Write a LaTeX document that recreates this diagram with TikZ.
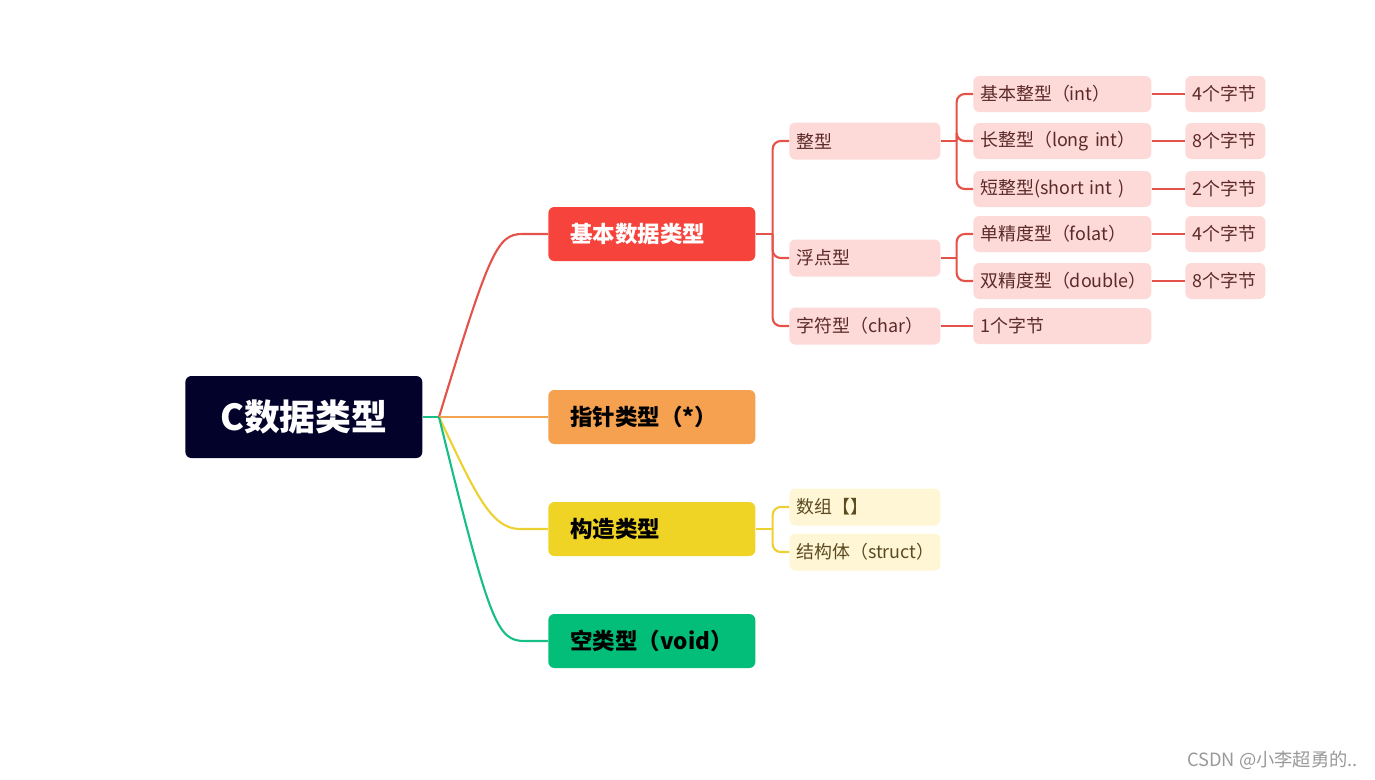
\documentclass[tikz,border=0pt]{standalone}
\usepackage{fontspec}
\setmainfont{Noto Sans CJK SC}
\usepackage{xcolor}
\definecolor{rootbg}{HTML}{03022A}
\definecolor{redbg}{HTML}{F6443D}
\definecolor{orangebg}{HTML}{F5A150}
\definecolor{yellowbg}{HTML}{F0D425}
\definecolor{greenbg}{HTML}{02BE78}
\definecolor{redln}{HTML}{E5524A}
\definecolor{orangeln}{HTML}{F2A451}
\definecolor{yellowln}{HTML}{EDD132}
\definecolor{greenln}{HTML}{17BF84}
\definecolor{pinkbg}{HTML}{FDD9D8}
\definecolor{pinktx}{HTML}{5B2A28}
\definecolor{creambg}{HTML}{FFF6D5}
\definecolor{creamtx}{HTML}{5A4A20}

\begin{document}
\begin{tikzpicture}[x=0.02cm,y=-0.02cm,
  box/.style={rounded corners=0.12cm, inner ysep=0pt, align=left, anchor=west},
  rootbox/.style={box, fill=rootbg, text=white, align=center, inner xsep=0pt,
    minimum width=4.74cm, minimum height=1.64cm, font=\fontsize{20.4}{24}\selectfont\bfseries},
  mainbox/.style={box, inner xsep=0.44cm, text width=3.26cm, minimum height=1.08cm,
    font=\fontsize{12.8}{15}\selectfont\bfseries},
  subbox/.style={box, inner xsep=0.14cm, text width=2.74cm, minimum height=0.74cm,
    font=\fontsize{10.2}{12}\selectfont},
  leafbox/.style={subbox, text width=3.28cm, minimum height=0.72cm},
  bytebox/.style={subbox, text width=1.32cm, minimum height=0.72cm},
  pink/.style={fill=pinkbg, text=pinktx},
  cream/.style={fill=creambg, text=creamtx},
  link/.style={line width=1.2pt},
  bracket/.style={link, rounded corners=0.16cm}]
  \useasboundingbox (0,0) rectangle (1375,779);

  % root and first level
  \node[rootbox] (root) at (185,417) {C数据类型};
  \coordinate (hub) at (439,417);
  \node[mainbox, fill=redbg, text=white] (basic) at (548,234) {基本数据类型};
  \node[mainbox, fill=orangebg] (ptr) at (548,417) {指针类型（*）};
  \node[mainbox, fill=yellowbg] (build) at (548,529) {构造类型};
  \node[mainbox, fill=greenbg] (void) at (548,641) {空类型（void）};

  \draw[link, greenln] (root.east) -- (hub);
  \draw[link, redln] (hub) .. controls (489,253) and (497,234) .. (522,234) -- (basic.west);
  \draw[link, orangeln] (hub) -- (ptr.west);
  \draw[link, yellowln] (hub) .. controls (474,490) and (490,529) .. (520,529) -- (build.west);
  \draw[link, greenln] (hub) .. controls (490,625) and (497,641) .. (525,641) -- (void.west);

  % basic types
  \node[subbox, pink] (int) at (789,141) {整型};
  \node[subbox, pink] (float) at (789,258) {浮点型};
  \node[subbox, pink] (char) at (789,326) {字符型（char）};
  \draw[link, redln] (basic.east) -- ++(17,0) coordinate (bj);
  \foreach \n in {int,float,char}
    \draw[bracket, redln] (bj) |- (\n.west);

  \node[leafbox, pink] (int1) at (973,94) {基本整型（int）};
  \node[leafbox, pink] (int2) at (973,141) {长整型（long int）};
  \node[leafbox, pink] (int3) at (973,189) {短整型(short int )};
  \node[leafbox, pink] (flt1) at (973,234) {单精度型（folat）};
  \node[leafbox, pink] (flt2) at (973,281) {双精度型（double）};
  \node[leafbox, pink] (chr1) at (973,326) {1个字节};
  \draw[link, redln] (int.east) -- ++(16,0) coordinate (ij);
  \foreach \n in {int1,int2,int3}
    \draw[bracket, redln] (ij) |- (\n.west);
  \draw[link, redln] (float.east) -- ++(16,0) coordinate (fj);
  \foreach \n in {flt1,flt2}
    \draw[bracket, redln] (fj) |- (\n.west);
  \draw[link, redln] (char.east) -- (chr1.west);

  % sizes
  \node[bytebox, pink] (sz1) at (1185,94) {4个字节};
  \node[bytebox, pink] (sz2) at (1185,141) {8个字节};
  \node[bytebox, pink] (sz3) at (1185,189) {2个字节};
  \node[bytebox, pink] (sz4) at (1185,234) {4个字节};
  \node[bytebox, pink] (sz5) at (1185,281) {8个字节};
  \draw[link, redln] (int1.east) -- (sz1.west);
  \draw[link, redln] (int2.east) -- (sz2.west);
  \draw[link, redln] (int3.east) -- (sz3.west);
  \draw[link, redln] (flt1.east) -- (sz4.west);
  \draw[link, redln] (flt2.east) -- (sz5.west);

  % built types
  \node[subbox, cream] (arr) at (789,507) {数组【】};
  \node[subbox, cream] (strc) at (789,552) {结构体（struct）};
  \draw[link, yellowln] (build.east) -- ++(17,0) coordinate (sj);
  \foreach \n in {arr,strc}
    \draw[bracket, yellowln] (sj) |- (\n.west);

  \node[anchor=east, text=black!40, font=\fontsize{10.4}{12}\selectfont] (mark) at (1364,760) {CSDN @小李超勇的..};
\end{tikzpicture}
\end{document}
